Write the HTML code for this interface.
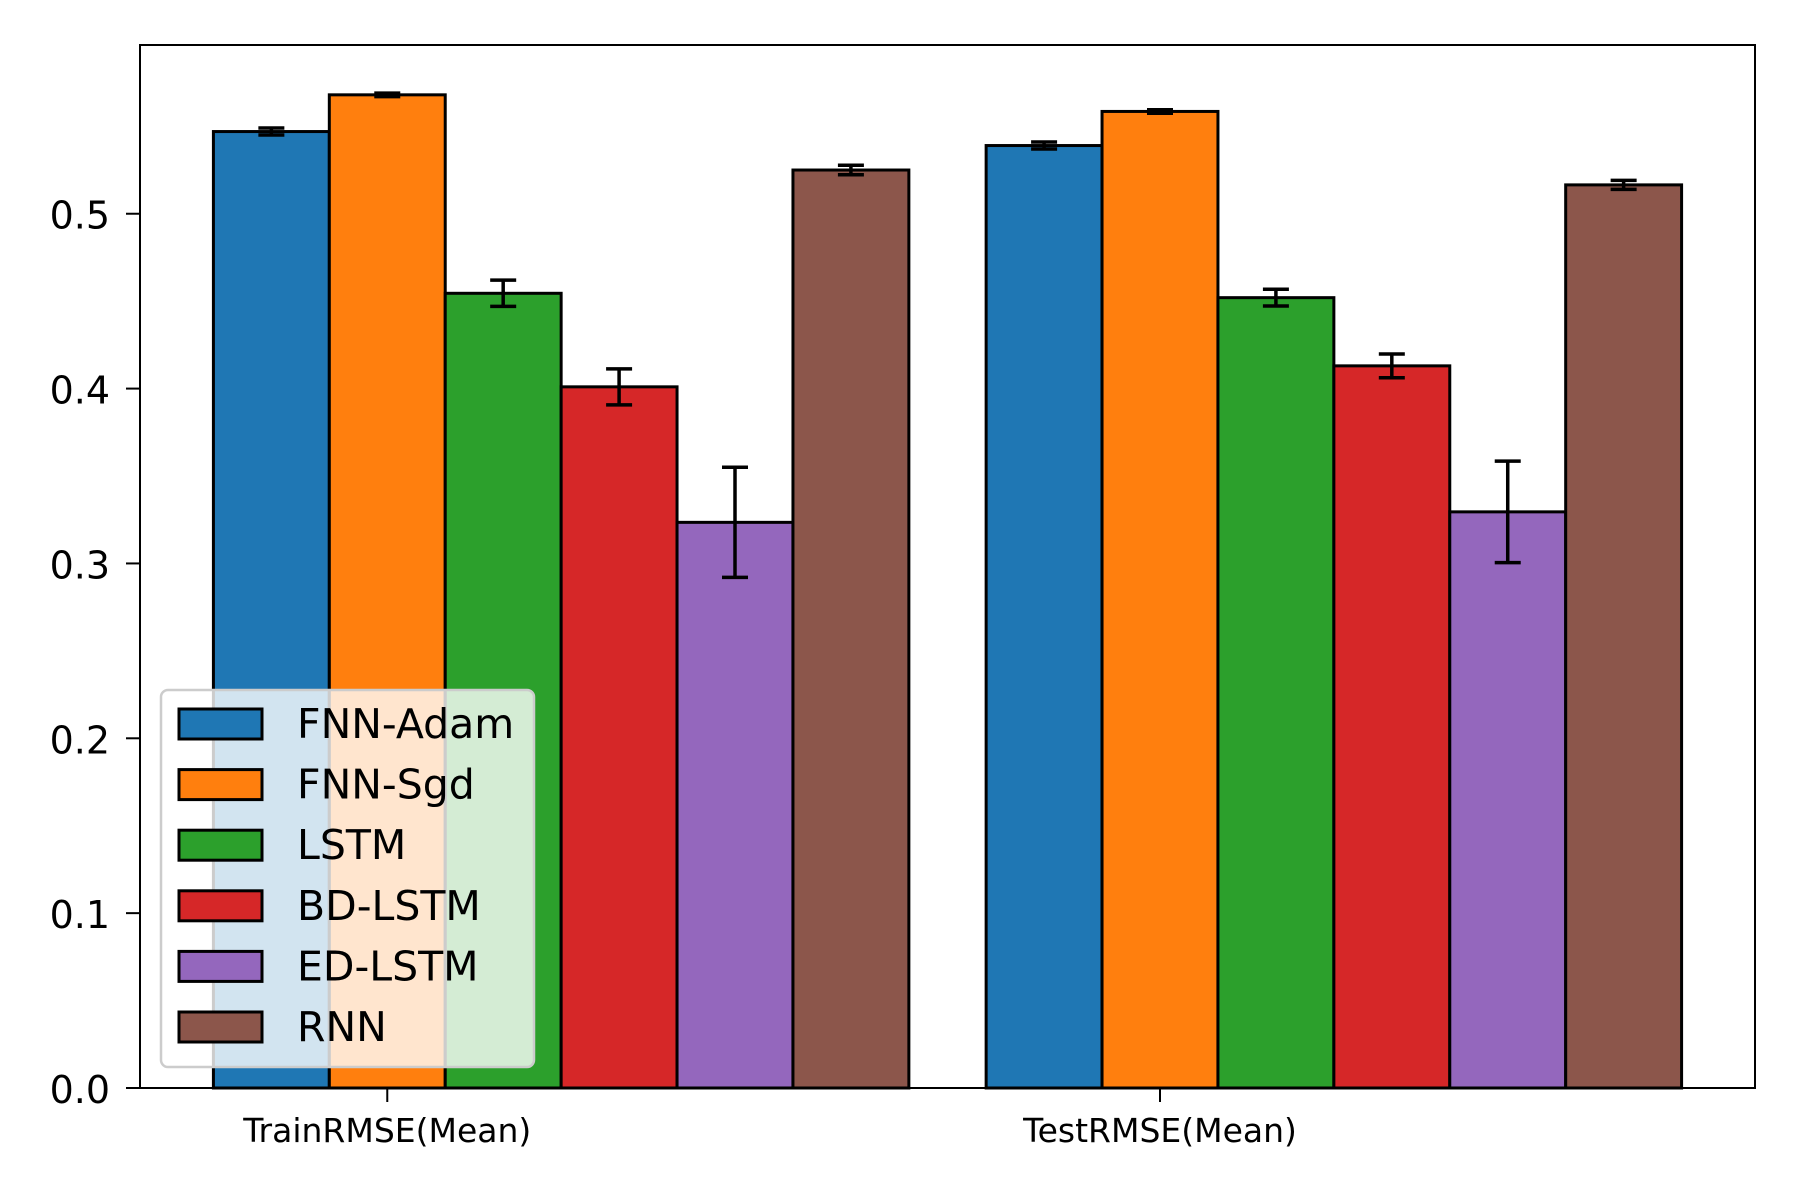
<!DOCTYPE html>
<html><head><meta charset="utf-8"><style>
html,body{margin:0;padding:0;background:#fff;}
svg{display:block;font-family:"DejaVu Sans","Liberation Sans",sans-serif;}
</style></head><body>
<svg id="chart" width="1800" height="1200" viewBox="0 0 1800 1200" xmlns="http://www.w3.org/2000/svg"></svg>
<script>
const categories = ["TrainRMSE(Mean)", "TestRMSE(Mean)"];
const seriesNames = ["FNN-Adam", "FNN-Sgd", "LSTM", "BD-LSTM", "ED-LSTM", "RNN"];
const seriesColors = ["#1f77b4", "#ff7f0e", "#2ca02c", "#d62728", "#9467bd", "#8c564b"];
const fnnAdam = [0.547, 0.539];
const fnnSgd = [0.568, 0.5585];
const lstm = [0.4545, 0.452];
const bdLstm = [0.401, 0.413];
const edLstm = [0.3235, 0.3295];
const rnn = [0.525, 0.5165];
const errFnnAdam = [0.002, 0.002];
const errFnnSgd = [0.001, 0.001];
const errLstm = [0.0075, 0.0048];
const errBdLstm = [0.0103, 0.0068];
const errEdLstm = [0.0315, 0.029];
const errRnn = [0.0027, 0.0026];
const yTicks = [0.0, 0.1, 0.2, 0.3, 0.4, 0.5];
const yTickLabels = ["0.0", "0.1", "0.2", "0.3", "0.4", "0.5"];

const values = [fnnAdam, fnnSgd, lstm, bdLstm, edLstm, rnn];
const errs = [errFnnAdam, errFnnSgd, errLstm, errBdLstm, errEdLstm, errRnn];

const svg = document.getElementById('chart');
const NS = "http://www.w3.org/2000/svg";
const L = 140, R = 1755, T = 45, B = 1088;
const barW = 0.15;
const xMin = -0.17, xMax = 1.92, yMin = 0, yMax = 0.5965;
const xs = v => L + (v - xMin) / (xMax - xMin) * (R - L);
const ys = v => B - (v - yMin) / (yMax - yMin) * (B - T);

function mk(tag, attrs, parent) {
  const e = document.createElementNS(NS, tag);
  for (const k in attrs) e.setAttribute(k, attrs[k]);
  (parent || svg).appendChild(e);
  return e;
}

const barsG = mk('g', {});


for (let s = 0; s < values.length; s++) {
  for (let c = 0; c < categories.length; c++) {
    const cx = c + s * barW;
    const x0 = xs(cx - barW / 2), x1 = xs(cx + barW / 2);
    const y0 = ys(values[s][c]);
    const r = mk('rect', {x: x0, y: y0, width: x1 - x0, height: B - y0, fill: seriesColors[s], stroke: '#000', 'stroke-width': 3}, barsG);
    
    
  }
}
const errG = mk('g', {stroke: '#000', 'stroke-width': 3.5});


for (let s = 0; s < values.length; s++) {
  for (let c = 0; c < categories.length; c++) {
    const px = xs(c + s * barW);
    const yt = ys(values[s][c] + errs[s][c]), yb = ys(values[s][c] - errs[s][c]);
    mk('line', {x1: px, x2: px, y1: yt, y2: yb}, errG);
    mk('line', {x1: px - 13, x2: px + 13, y1: yt, y2: yt}, errG);
    mk('line', {x1: px - 13, x2: px + 13, y1: yb, y2: yb}, errG);
  }
}

const frame = mk('rect', {x: L, y: T, width: R - L, height: B - T, fill: 'none', stroke: '#000', 'stroke-width': 2});



const yAxis = mk('g', {});


yTicks.forEach((t, i) => {
  const y = ys(t);
  mk('line', {x1: L - 14, x2: L, y1: y, y2: y, stroke: '#000', 'stroke-width': 2}, yAxis);
  const tx = mk('text', {x: L - 30, y: y + 15, 'text-anchor': 'end', 'font-size': 38, fill: '#000'}, yAxis);
  tx.textContent = yTickLabels[i];
  
  
});

const xAxis = mk('g', {});


categories.forEach((c, i) => {
  const x = xs(i + barW);
  mk('line', {x1: x, x2: x, y1: B, y2: B + 14, stroke: '#000', 'stroke-width': 2}, xAxis);
  const tx = mk('text', {x: x, y: B + 54, 'text-anchor': 'middle', 'font-size': 33, fill: '#000'}, xAxis);
  tx.textContent = c;
  
  
});

const lg = mk('g', {});


mk('rect', {x: 161, y: 690, width: 373, height: 377, rx: 7, fill: 'rgba(255,255,255,0.8)', stroke: '#cccccc', 'stroke-width': 2.5}, lg);
seriesNames.forEach((n, i) => {
  const cy = 724 + i * 60.6;
  const eg = mk('g', {}, lg);
  
  
  mk('rect', {x: 179, y: cy - 15, width: 83, height: 30, fill: seriesColors[i], stroke: '#000', 'stroke-width': 3}, eg);
  const t = mk('text', {x: 297, y: cy + 14, 'font-size': 41, fill: '#000'}, eg);
  t.textContent = n;
});
</script>
</body></html>
